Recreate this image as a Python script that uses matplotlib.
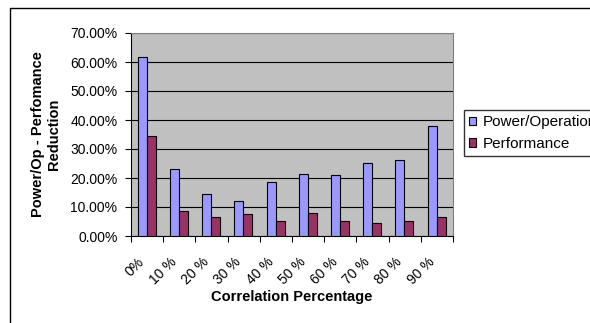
import matplotlib
matplotlib.use("Agg")
import matplotlib.pyplot as plt
from matplotlib.patches import Rectangle
import numpy as np

categories = ["0%", "10 %", "20 %", "30 %", "40 %", "50 %", "60 %", "70 %", "80 %", "90 %"]
power_op = [61.8, 23.1, 14.6, 12.1, 18.7, 21.4, 21.2, 25.3, 26.2, 37.9]
performance = [34.4, 8.7, 6.4, 7.5, 5.2, 7.9, 5.1, 4.6, 5.1, 6.4]

plt.rcParams["font.family"] = ["Liberation Sans", "DejaVu Sans"]

fig = plt.figure(figsize=(5.9, 3.23), dpi=100)
fig.patch.set_facecolor("white")
ax = fig.add_axes([131 / 590, 1 - 236 / 323, 322 / 590, 203 / 323])
ax.set_facecolor("#C0C0C0")

x = np.arange(len(categories))
w = 0.28
ax.bar(x - 0.15, power_op, w, color="#9999FF", edgecolor="black", lw=0.8,
       label="Power/Operation", zorder=3)
ax.bar(x + 0.13, performance, w, color="#993366", edgecolor="black", lw=0.8,
       label="Performance", zorder=3)

ax.set_xlim(-0.5, len(categories) - 0.5)
ax.set_ylim(0, 70)
ax.set_yticks(np.arange(0, 71, 10))
ax.set_yticklabels([f"{v:.2f}%" for v in np.arange(0, 71, 10)], fontsize=10)
ax.yaxis.grid(True, color="black", lw=0.8, zorder=1)

ax.set_xticks(np.arange(-0.5, len(categories), 1.0))
ax.set_xticklabels([])
# rotated labels end a little left of each category centre
ax.set_xticks(x - 0.3, minor=True)
ax.set_xticklabels(categories, minor=True, rotation=45, ha="right", va="top",
                   rotation_mode="anchor", fontsize=10)
ax.tick_params(axis="x", which="minor", length=0, pad=13.5)
ax.tick_params(axis="x", which="major", length=4, direction="out")
ax.tick_params(axis="y", length=4.3, direction="out", pad=5.5)

for s in ("top", "right"):
    ax.spines[s].set_color("#808080")
for s in ("left", "bottom"):
    ax.spines[s].set_color("black")

ax.set_xlabel("Correlation Percentage", fontsize=10.5, fontweight="bold")
ax.xaxis.set_label_coords(0.5, (236 - 290) / 203)
ax.set_ylabel("Power/Op - Perfomance\nReduction", fontsize=10.5, fontweight="bold")
ax.yaxis.set_label_coords((61 - 131) / 322, 0.5)

fig.legend(loc="upper left", bbox_to_anchor=(464 / 590, 1 - 110 / 323),
           fontsize=11, frameon=True, fancybox=False, edgecolor="black",
           handlelength=0.45, handleheight=0.45, handletextpad=0.4,
           borderpad=0.35, labelspacing=0.5, borderaxespad=0)

fig.patches.append(Rectangle((10 / 590, -0.1), 2, 1 - 8 / 323 + 0.1,
                             transform=fig.transFigure, fill=False,
                             edgecolor="black", lw=1))

fig.savefig("out.png", dpi=100)
